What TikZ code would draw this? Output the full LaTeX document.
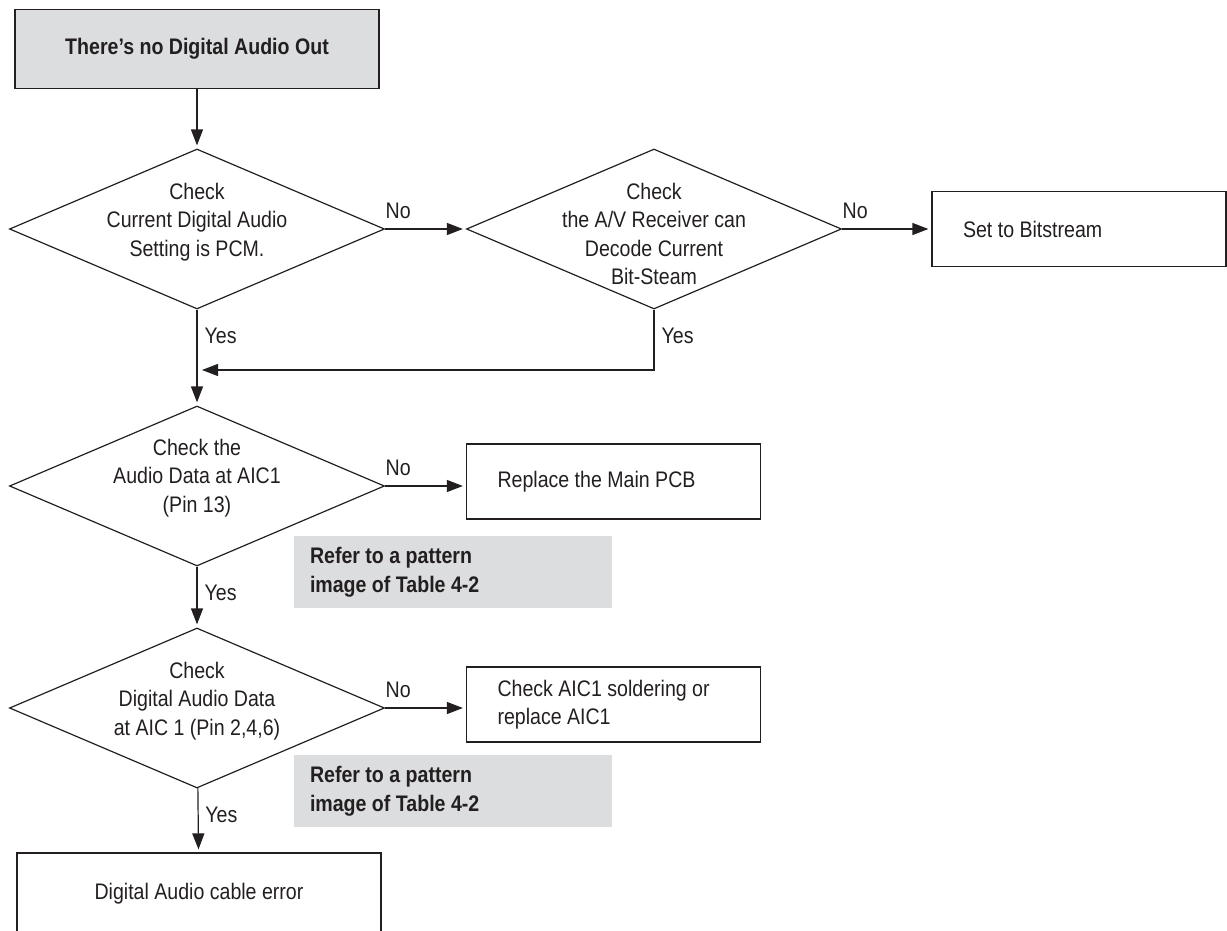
\documentclass[tikz,border=0pt]{standalone}
\usepackage{fontspec}
\setmainfont{Liberation Sans}[FakeStretch=0.87]
\usetikzlibrary{shapes.geometric,arrows.meta}
\definecolor{ink}{RGB}{35,31,32}
\definecolor{shade}{RGB}{220,221,223}

\begin{document}
\begin{tikzpicture}
  [x=0.5pt,y=-0.5pt,line width=0.6pt,color=ink,
   every node/.style={font=\fontsize{11.25}{14.25}\selectfont},
   decision/.style={diamond,draw,inner sep=0pt,minimum width=187.5pt,minimum height=80pt},
   dtext/.style={align=center,inner sep=0pt},
   action/.style={draw,align=left,text width=116pt,inner xsep=15.5pt,inner ysep=0pt,minimum height=37.5pt,
     execute at begin node={\spaceskip=0pt\relax}},
   note/.style={fill=shade,align=left,font=\fontsize{11.25}{14.25}\selectfont\bfseries,text width=143pt,inner xsep=8pt,minimum height=36pt,
     execute at begin node={\spaceskip=0pt\relax}},
   arr/.style={-{Triangle[length=8pt,width=6pt]},shorten >=1.5pt},
   nolbl/.style={anchor=south west,inner xsep=0pt,inner ysep=5pt},
   yeslbl/.style={anchor=north west,inner xsep=3.5pt,inner ysep=9pt}]
  \useasboundingbox (0,0) rectangle (1227,931);

  \node[draw,fill=shade,minimum width=182pt,minimum height=39.5pt,font=\fontsize{11.25}{14.25}\selectfont\bfseries] (st) at (197,49) {There’s no Digital Audio Out};
  \node[decision] (d1) at (197,229) {};
  \node[dtext] (d1t) at (197,222) {Check\\Current Digital Audio\\Setting is PCM.};
  \node[decision] (d2) at (654,229) {};
  \node[dtext] (d2t) at (654,234) {Check\\the A/V Receiver can\\Decode Current\\Bit-Steam};
  \node[action] (sb) at (1079,229) {Set to Bitstream};
  \coordinate (m) at (197,370);
  \node[decision] (d3) at (197,486) {};
  \node[dtext] (d3t) at (197,478) {Check the\\Audio Data at AIC1\\(Pin 13)};
  \node[action] (rp) at (613.5,481.5) {Replace the Main PCB};
  \node[note] (n1) at (453,572) {Refer to a pattern\\image of Table 4-2};
  \node[decision] (d4) at (197,708) {};
  \node[dtext] (d4t) at (197,701) {Check\\Digital Audio Data\\at AIC 1 (Pin 2,4,6)};
  \node[action] (ca) at (613.5,704.5) {Check AIC1 soldering or\\replace AIC1};
  \node[note] (n2) at (453,791) {Refer to a pattern\\image of Table 4-2};
  \node[draw,minimum width=182pt,minimum height=41pt] (ce) at (199,894) {Digital Audio cable error};

  \draw[arr] (st) -- (d1);
  \foreach \from/\to in {d1/d2,d2/sb}
    \draw[arr] (\from) -- node[nolbl,pos=0] {No} (\to);
  \draw[arr,shorten >=2.5pt] (d2.south) |- node[yeslbl,pos=0] {Yes} (m);
  \foreach \from/\to in {d1/d3,d3/d4,d4/ce}
    \draw[arr] (\from) -- node[yeslbl,pos=0] {Yes} (\to);
  \draw[arr] (d3) -- node[nolbl,pos=0] {No} (d3.east -| rp.west);
  \draw[arr] (d4) -- node[nolbl,pos=0] {No} (d4.east -| ca.west);
\end{tikzpicture}
\end{document}
